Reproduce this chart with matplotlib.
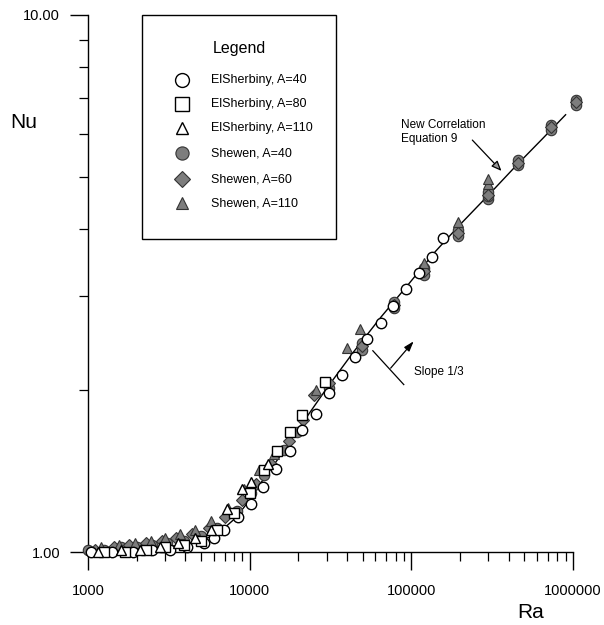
import matplotlib
matplotlib.use("Agg")
import matplotlib.pyplot as plt
from matplotlib.patches import Rectangle
from matplotlib.ticker import LogLocator, NullFormatter, FixedLocator, FixedFormatter

plt.rcParams['font.family'] = ['Liberation Sans', 'DejaVu Sans']

# correlation line (Equation 9)
ra_line = [1000, 2000, 3000, 4000, 5000, 6000, 7000, 8000, 9000, 10000, 11000,
           12700, 15700, 19400, 23300, 29700, 44000, 65000, 95000, 140000,
           200000, 300000, 450000, 650000, 900000]
nu_line = [1.00, 1.01, 1.02, 1.035, 1.05, 1.075, 1.11, 1.15, 1.20, 1.25, 1.31,
           1.39, 1.52, 1.67, 1.81, 2.01, 2.36, 2.74, 3.14, 3.62,
           4.07, 4.62, 5.26, 5.89, 6.52]

# ElSherbiny data
ra_e40 = [1050, 1400, 1900, 2500, 3200, 4100, 5200, 6000, 6980, 8500, 10240, 12140,
          14600, 17800, 21100, 25800, 31000, 37300, 44800, 53100, 64800, 77000,
          92400, 111000, 134000, 158000]
nu_e40 = [1.00, 1.00, 1.00, 1.01, 1.01, 1.02, 1.04, 1.06, 1.10, 1.16, 1.23, 1.32,
          1.43, 1.54, 1.69, 1.81, 1.98, 2.14, 2.31, 2.49, 2.67, 2.87,
          3.09, 3.31, 3.54, 3.85]
ra_e80 = [1250, 1700, 2300, 3000, 3900, 5000, 6300, 8000, 10000, 12200, 14800,
          17800, 21100, 29300]
nu_e80 = [1.00, 1.00, 1.01, 1.02, 1.03, 1.05, 1.10, 1.18, 1.29, 1.42, 1.54,
          1.67, 1.80, 2.07]
ra_e110 = [1150, 1600, 2100, 2800, 3600, 4600, 5800, 7200, 9020, 10240, 13000]
nu_e110 = [1.00, 1.01, 1.01, 1.02, 1.04, 1.06, 1.10, 1.20, 1.31, 1.35, 1.46]

# Shewen data
ra_s40 = [1000, 1250, 1600, 2000, 2500, 3100, 3900, 5000, 6300, 8300, 10250, 12300,
          16300, 19700, 31000, 49600, 49600, 78000, 78000, 119000, 119000, 195000,
          195000, 300000, 300000, 300000, 459000, 459000, 729000, 729000,
          1050000, 1050000]
nu_s40 = [1.01, 1.01, 1.02, 1.02, 1.03, 1.04, 1.05, 1.07, 1.11, 1.19, 1.29, 1.39,
          1.55, 1.67, 2.02, 2.38, 2.45, 2.85, 2.92, 3.28, 3.38, 3.88,
          3.97, 4.54, 4.61, 4.68, 5.25, 5.36, 6.1, 6.25,
          6.8, 6.95]
ra_s60 = [1100, 1450, 1800, 2300, 2850, 3500, 4400, 5600, 7000, 9000, 11000, 13500,
          17500, 21500, 25000, 31000, 49600, 78000, 119000, 195000, 300000, 459000,
          729000, 1050000]
nu_s60 = [1.01, 1.02, 1.03, 1.04, 1.05, 1.06, 1.08, 1.11, 1.16, 1.25, 1.34, 1.46,
          1.61, 1.76, 1.96, 2.06, 2.42, 2.88, 3.33, 3.92, 4.62, 5.3,
          6.18, 6.88]
ra_s110 = [1200, 1550, 1950, 2450, 3000, 3700, 4600, 5800, 7300, 9200, 11500, 14200,
           25800, 40000, 48000, 120000, 195000, 300000, 300000]
nu_s110 = [1.02, 1.03, 1.04, 1.05, 1.06, 1.08, 1.10, 1.14, 1.21, 1.31, 1.42, 1.52,
           2.00, 2.40, 2.60, 3.46, 4.12, 4.85, 4.96]

x_ticks = [1000, 10000, 100000, 1000000]
x_labels = ["1000", "10000", "100000", "1000000"]
y_ticks = [1, 10]
y_labels = ["1.00", "10.00"]

W, H = 604, 625


def fx(px):
    return px / W


def fy(py):
    return 1 - py / H


fig = plt.figure(figsize=(W / 100, H / 100), dpi=100)
ax = fig.add_axes([fx(88), fy(552), 485 / W, 537 / H])
ax.set_xscale("log")
ax.set_yscale("log")

ax.plot(ra_line, nu_line, color="black", lw=1.0, zorder=1)

grey = "#7d7d7d"
edge = "#333333"
styles = [
    # label, marker, size, face, edge, edge width
    ("ElSherbiny, A=40", "o", 7.5, "white", "black", 1.0),
    ("ElSherbiny, A=80", "s", 7.5, "white", "black", 1.0),
    ("ElSherbiny, A=110", "^", 7.0, "white", "black", 1.0),
    ("Shewen, A=40", "o", 7.5, grey, edge, 0.8),
    ("Shewen, A=60", "D", 6.5, grey, edge, 0.8),
    ("Shewen, A=110", "^", 7.0, grey, edge, 0.8),
]
series = [(ra_e40, nu_e40), (ra_e80, nu_e80), (ra_e110, nu_e110),
          (ra_s40, nu_s40), (ra_s60, nu_s60), (ra_s110, nu_s110)]

# Shewen first so the open ElSherbiny symbols sit on top
for i in [3, 4, 5, 0, 1, 2]:
    lab, m, ms, fc, ec, mew = styles[i]
    xs, ys = series[i]
    ax.plot(xs, ys, m, ms=ms, mfc=fc, mec=ec, mew=mew, ls="none",
            clip_on=False, zorder=3 if i >= 3 else 4)

ax.set_xlim(1000, 1000000)
ax.set_ylim(1, 10)
for s in ["top", "right"]:
    ax.spines[s].set_visible(False)
for s in ["left", "bottom"]:
    ax.spines[s].set_linewidth(1.0)

ax.xaxis.set_major_locator(FixedLocator(x_ticks))
ax.xaxis.set_major_formatter(FixedFormatter(x_labels))
ax.yaxis.set_major_locator(FixedLocator(y_ticks))
ax.yaxis.set_major_formatter(FixedFormatter(y_labels))
ax.xaxis.set_minor_locator(LogLocator(base=10, subs=range(2, 10)))
ax.yaxis.set_minor_locator(LogLocator(base=10, subs=range(2, 10)))
ax.xaxis.set_minor_formatter(NullFormatter())
ax.yaxis.set_minor_formatter(NullFormatter())
ax.tick_params(which="major", direction="out", length=13, width=1.0, labelsize=10.5)
ax.tick_params(axis="x", which="major", pad=10)
ax.tick_params(axis="y", which="major", pad=7)
ax.tick_params(which="minor", direction="out", length=6.5, width=0.9)

fig.text(fx(24), fy(122), "Nu", fontsize=15, ha="center", va="center")
fig.text(fx(531), fy(612), "Ra", fontsize=15, ha="center", va="center")

# legend box, drawn by hand to get the roomy spacing of the original
fig.add_artist(Rectangle((fx(142), fy(239)), fx(336) - fx(142), fy(15) - fy(239),
                         transform=fig.transFigure, fill=True, fc="white",
                         ec="black", lw=1.0, zorder=5))
fig.text(fx(239), fy(48), "Legend", fontsize=11.5, ha="center", va="center", zorder=6)
leg_y = [80, 104, 128, 153, 179, 203]
leg_ms = [10, 10, 9, 9.5, 8.5, 9]
for (lab, m, ms, fc, ec, mew), py, lms in zip(styles, leg_y, leg_ms):
    fig.add_artist(plt.Line2D([fx(182)], [fy(py)], marker=m, ms=lms, mfc=fc, mec=ec,
                              mew=mew, ls="none", transform=fig.transFigure, zorder=6))
    fig.text(fx(211), fy(py), lab, fontsize=9, ha="left", va="center", zorder=6)

# annotations
ax.text(86000, 6.4, "New Correlation\nEquation 9", fontsize=8.5, ha="left", va="top")
ax.annotate("", xy=(371000, 5.08), xytext=(232000, 5.9),
            arrowprops=dict(arrowstyle="-|>,head_length=0.6,head_width=0.25",
                            color="black", lw=0.9, fc="#999999"))
ax.plot([57800, 89800], [2.37, 2.05], color="black", lw=0.9)
ax.annotate("", xy=(106000, 2.49), xytext=(72600, 2.18),
            arrowprops=dict(arrowstyle="-|>,head_length=0.6,head_width=0.2",
                            color="black", lw=0.9))
ax.text(104000, 2.16, "Slope 1/3", fontsize=8.5, ha="left", va="center")

fig.savefig("out.png", dpi=100)
